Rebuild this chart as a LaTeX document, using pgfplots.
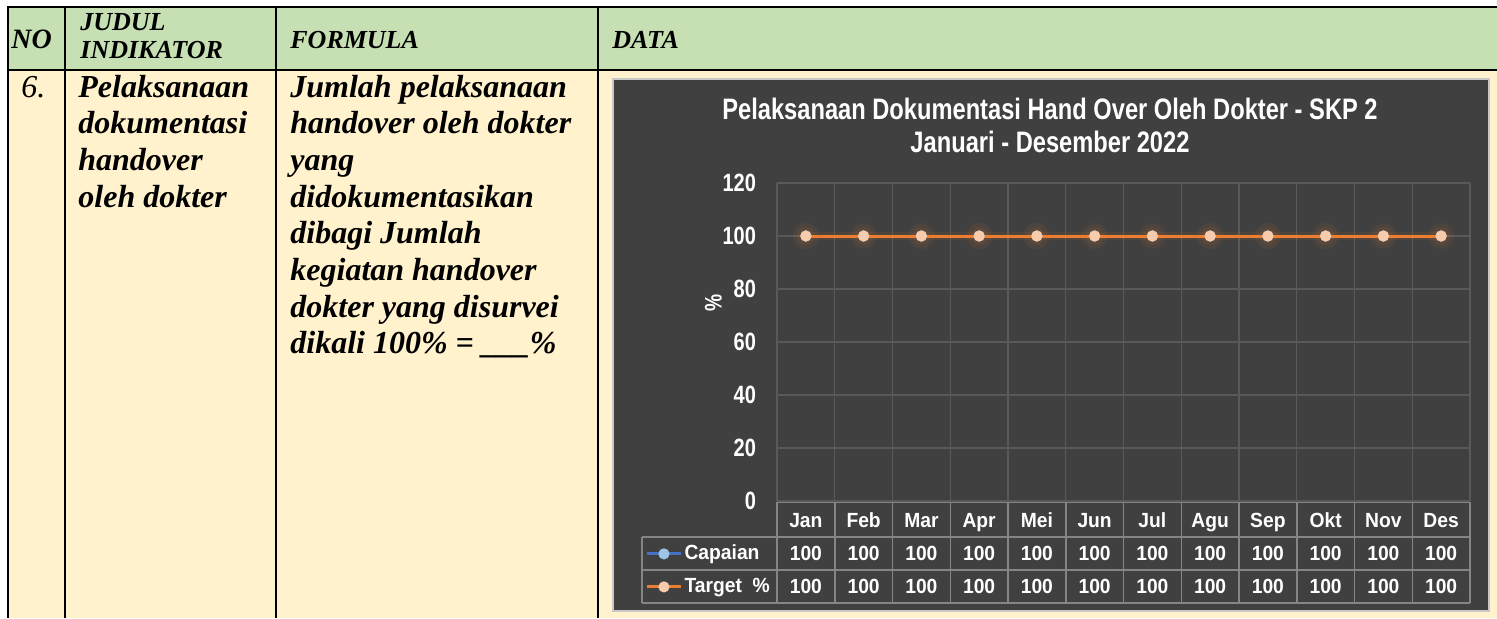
\documentclass[border=0pt]{standalone}
\usepackage{fontspec}
\setmainfont{Liberation Serif}
\newfontfamily\cf{Liberation Sans}[FakeStretch=0.8]
\newfontfamily\tf{Liberation Sans}[FakeStretch=0.94]
\usepackage{pgfplots}
\usepackage{pgfplotstable}
\pgfplotsset{compat=1.18}
\definecolor{hdr}{HTML}{C6E0B4}
\definecolor{bodyc}{HTML}{FFF2CC}
\definecolor{chartbg}{HTML}{404040}
\definecolor{chartbd}{HTML}{C8C8C8}
\definecolor{gridc}{HTML}{595959}
\definecolor{tblc}{HTML}{858585}
\definecolor{orng}{HTML}{ED7D31}
\definecolor{orngm}{HTML}{F8CBAD}
\definecolor{blu}{HTML}{4472C4}
\definecolor{blum}{HTML}{9DC3E6}
\pgfplotstableread{
x cap tgt
0 100 100
1 100 100
2 100 100
3 100 100
4 100 100
5 100 100
6 100 100
7 100 100
8 100 100
9 100 100
10 100 100
11 100 100
}\data
\begin{document}
\begin{tikzpicture}[x=0.5pt,y=0.5pt]
\useasboundingbox (0,0) rectangle (1497,618);
% table background
\fill[hdr] (8,611) rectangle (1497,548);
\fill[bodyc] (8,548) rectangle (1497,0);
\draw[line width=1.2pt] (7,611) -- (1497,611);
\draw[line width=1.2pt] (7,548) -- (1497,548);
\foreach \xx in {8,65,276,598} \draw[line width=1.2pt] (\xx,611.5) -- (\xx,0);
% header text
\begin{scope}[every node/.style={inner sep=0pt, font=\bfseries\itshape\fontsize{13}{14}\selectfont, anchor=base west}]
\node[font=\bfseries\itshape\fontsize{14}{14}\selectfont] at (11,569.5) {NO};
\node at (80,587.5) {JUDUL};
\node at (80,559.5) {INDIKATOR};
\node at (290,569.5) {FORMULA};
\node at (612,569.5) {DATA};
\end{scope}
% body text
\node[inner sep=0pt, anchor=base west, font=\itshape\fontsize{16}{18}\selectfont] at (21,521) {6.};
\begin{scope}[every node/.style={inner sep=0pt, font=\bfseries\itshape\fontsize{16}{18}\selectfont, anchor=base west}]
\node at (78,521) {Pelaksanaan};
\node at (78,484.3) {dokumentasi};
\node at (78,447.6) {handover};
\node at (78,410.9) {oleh dokter};
\node at (290,521) {Jumlah pelaksanaan};
\node at (290,484.3) {handover oleh dokter};
\node at (290,447.6) {yang};
\node at (290,410.9) {didokumentasikan};
\node at (290,374.2) {dibagi Jumlah};
\node at (290,337.5) {kegiatan handover};
\node at (290,300.8) {dokter yang disurvei};
\node at (290,264.1) {dikali 100\% = \_\_\_\%};
\end{scope}
% chart box
\fill[chartbg] (613,539) rectangle (1489,7);
\draw[chartbd, line width=0.9pt] (613,539) rectangle (1489,7);
% chart title
\node[inner sep=0pt, anchor=base, text=white, font=\cf\bfseries\fontsize{14.8}{16}\selectfont] at (1050,499) {Pelaksanaan Dokumentasi Hand Over Oleh Dokter - SKP 2};
\node[inner sep=0pt, anchor=base, text=white, font=\cf\bfseries\fontsize{14.8}{16}\selectfont] at (1050,466) {Januari - Desember 2022};
% data table grid
\begin{scope}[tblc, line width=0.75pt]
\draw (777,116) -- (1470,116);
\draw (642,81) -- (1470,81);
\draw (642,48) -- (1470,48);
\draw (642,15) -- (1470,15);
\draw (642,81) -- (642,15);
\foreach \i in {0,...,12} \draw ({777+\i*57.75},116) -- ({777+\i*57.75},15);
\end{scope}
\begin{axis}[
  at={(388.5pt,58.5pt)}, anchor=south west,
  width=346.5pt, height=159pt, scale only axis,
  xmin=-0.5, xmax=11.5, ymin=0, ymax=120,
  /pgf/number format/assume math mode=true,
  xtick={0,...,11},
  xticklabels={Jan,Feb,Mar,Apr,Mei,Jun,Jul,Agu,Sep,Okt,Nov,Des},
  minor xtick={-0.5,0.5,...,11.5},
  ytick={0,20,...,120},
  xminorgrids=true, ymajorgrids=true, xmajorgrids=false,
  grid style={gridc, line width=0.6pt},
  minor grid style={gridc, line width=0.6pt},
  major tick length=0pt, minor tick length=0pt,
  axis line style={draw=none},
  clip=false,
  xticklabel style={font=\tf\bfseries\fontsize{10.25}{12}\selectfont, text=white, anchor=base, yshift=-13pt},
  yticklabel style={font=\cf\bfseries\fontsize{12.5}{14}\selectfont, text=white, anchor=east, xshift=-7pt},
  ylabel={\%},
  ylabel style={at={(axis description cs:-0.092,0.623)}, anchor=center, font=\cf\bfseries\fontsize{12}{14}\selectfont, text=white},
  legend style={at={(axis description cs:-0.1905,-0.1132)}, anchor=north west, draw=none, fill=none, text=white,
    font=\tf\bfseries\fontsize{10.25}{12}\selectfont, inner sep=0pt, row sep=0pt,
    nodes={inner sep=1pt, minimum height=16.5pt}},
  legend cell align=left,
]
\addplot[blu, line width=1.5pt, mark=*, mark size=2pt, mark options={fill=blum, draw=blum},
  nodes near coords, every node near coord/.append style={font=\tf\bfseries\fontsize{10.25}{12}\selectfont, text=white, anchor=base, yshift=-162.4pt}]
  table[x=x, y=cap]{\data};
\addlegendentry{Capaian}
\addplot[orng, line width=4pt, opacity=0.08, mark=*, mark size=4.5pt, mark options={fill=orng, draw=none}, forget plot]
  table[x=x, y=tgt]{\data};
\addplot[orng, line width=1.5pt, mark=*, mark size=2pt, mark options={fill=orngm, draw=orngm},
  nodes near coords, every node near coord/.append style={font=\tf\bfseries\fontsize{10.25}{12}\selectfont, text=white, anchor=base, yshift=-178.9pt}]
  table[x=x, y=tgt]{\data};
\addlegendentry{Target\ \ \%}
\end{axis}
\end{tikzpicture}
\end{document}
